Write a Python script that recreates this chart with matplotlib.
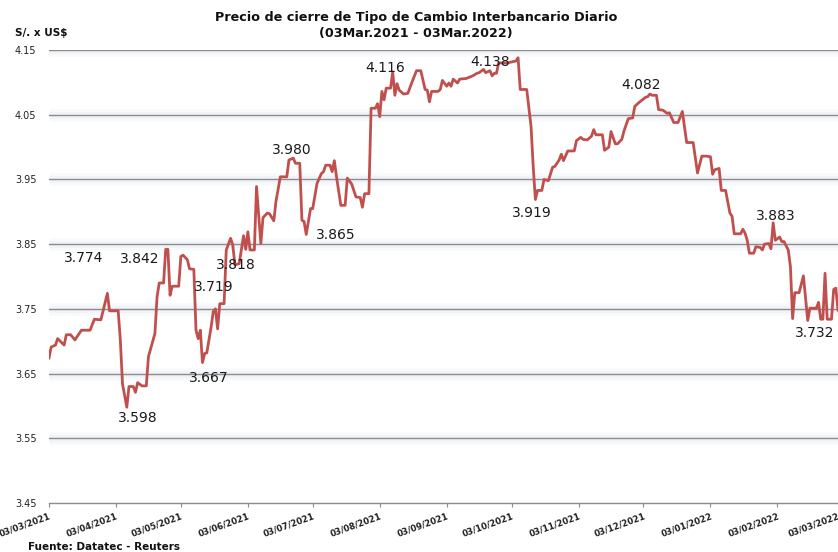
import matplotlib
matplotlib.use("Agg")
import matplotlib.pyplot as plt
import pandas as pd

# ---- data (calendar day offset from 03/03/2021, closing rate) ----
start_date = "2021-03-03"
day_offsets = [0, 1, 3, 4, 7, 8, 10, 12, 15, 19, 21, 24, 27, 28, 32, 33, 34, 36, 37, 39,
               40, 41, 43, 45, 46, 49, 50, 51, 53, 54, 55, 56, 57, 60, 61, 62, 64, 65, 67, 68,
               69, 70, 71, 72, 73, 75, 76, 77, 78, 79, 81, 82, 84, 85, 86, 88, 90, 91, 92, 93,
               95, 96, 98, 99, 101, 102, 104, 105, 107, 110, 111, 113, 114, 116, 117, 118, 119, 121, 122, 124,
               126, 127, 128, 130, 131, 132, 133, 135, 137, 138, 140, 142, 144, 145, 146, 148, 149, 151, 152, 153,
               154, 155, 156, 158, 159, 160, 161, 162, 164, 166, 168, 170, 172, 174, 175, 176, 177, 180, 181, 182,
               184, 185, 186, 187, 189, 190, 193, 196, 198, 199, 201, 202, 204, 205, 206, 207, 208, 212, 216, 217,
               218, 221, 223, 224, 225, 226, 228, 229, 231, 233, 234, 236, 237, 238, 240, 243, 244, 246, 247, 249,
               251, 252, 253, 256, 257, 259, 260, 262, 263, 265, 266, 268, 270, 271, 273, 276, 277, 278, 279, 281,
               282, 284, 286, 287, 289, 291, 293, 295, 298, 300, 302, 304, 306, 307, 308, 310, 311, 313, 315, 316,
               317, 320, 321, 322, 323, 324, 326, 327, 329, 330, 331, 333, 334, 335, 336, 338, 339, 340, 342, 343,
               344, 345, 347, 349, 351, 352, 355, 356, 357, 358, 359, 360, 362, 363, 364, 365]
rates = [3.674, 3.691, 3.694, 3.704, 3.694, 3.710, 3.710, 3.702, 3.717, 3.717, 3.734, 3.733, 3.774, 3.747, 3.747, 3.702, 3.634, 3.598, 3.630, 3.630,
         3.621, 3.636, 3.631, 3.631, 3.676, 3.712, 3.769, 3.790, 3.790, 3.842, 3.842, 3.771, 3.785, 3.785, 3.831, 3.833, 3.826, 3.812, 3.811, 3.717,
         3.704, 3.717, 3.667, 3.681, 3.682, 3.722, 3.746, 3.750, 3.719, 3.758, 3.758, 3.841, 3.859, 3.849, 3.818, 3.820, 3.863, 3.842, 3.869, 3.841,
         3.841, 3.939, 3.851, 3.891, 3.898, 3.897, 3.886, 3.916, 3.954, 3.954, 3.980, 3.983, 3.975, 3.975, 3.887, 3.885, 3.865, 3.905, 3.905, 3.944,
         3.959, 3.962, 3.972, 3.972, 3.962, 3.979, 3.954, 3.910, 3.910, 3.952, 3.943, 3.923, 3.922, 3.907, 3.928, 3.928, 4.060, 4.060, 4.067, 4.047,
         4.086, 4.073, 4.091, 4.091, 4.116, 4.080, 4.098, 4.088, 4.082, 4.083, 4.101, 4.118, 4.118, 4.089, 4.088, 4.070, 4.086, 4.086, 4.089, 4.103,
         4.094, 4.099, 4.094, 4.105, 4.099, 4.105, 4.106, 4.110, 4.114, 4.115, 4.120, 4.115, 4.118, 4.110, 4.114, 4.114, 4.130, 4.130, 4.133, 4.138,
         4.089, 4.089, 4.032, 3.970, 3.919, 3.933, 3.933, 3.950, 3.948, 3.969, 3.970, 3.980, 3.989, 3.979, 3.994, 3.994, 4.010, 4.015, 4.012, 4.011,
         4.017, 4.027, 4.019, 4.019, 3.995, 4.000, 4.024, 4.005, 4.005, 4.012, 4.025, 4.044, 4.045, 4.063, 4.069, 4.077, 4.078, 4.082, 4.080, 4.080,
         4.058, 4.057, 4.052, 4.053, 4.038, 4.038, 4.055, 4.007, 4.007, 3.960, 3.986, 3.986, 3.985, 3.958, 3.965, 3.967, 3.933, 3.933, 3.898, 3.893,
         3.866, 3.866, 3.873, 3.867, 3.856, 3.836, 3.836, 3.846, 3.845, 3.841, 3.850, 3.851, 3.843, 3.883, 3.856, 3.861, 3.854, 3.854, 3.841, 3.815,
         3.735, 3.775, 3.775, 3.801, 3.732, 3.751, 3.751, 3.760, 3.734, 3.734, 3.805, 3.734, 3.734, 3.780, 3.782, 3.748]

# annotated values and where their text sits (day offset, rate)
label_values = ["3.774", "3.598", "3.842", "3.667", "3.719", "3.818", "3.980", "3.865",
                "4.116", "4.138", "3.919", "4.082", "3.883", "3.732"]
label_text_pos = [(16.2, 3.829), (41.1, 3.581), (42.1, 3.827), (74.0, 3.643), (76.3, 3.784),
                  (86.5, 3.818), (112.3, 3.995), (132.7, 3.864), (155.3, 4.122), (203.9, 4.131),
                  (223.3, 3.898), (273.7, 4.096), (336.1, 3.894), (354.1, 3.713)]

y_ticks = [3.45, 3.55, 3.65, 3.75, 3.85, 3.95, 4.05, 4.15]
x_tick_dates = ["2021-03-03", "2021-04-03", "2021-05-03", "2021-06-03", "2021-07-03",
                "2021-08-03", "2021-09-03", "2021-10-03", "2021-11-03", "2021-12-03",
                "2022-01-03", "2022-02-03", "2022-03-03"]

title_text = "Precio de cierre de Tipo de Cambio Interbancario Diario\n(03Mar.2021 - 03Mar.2022)"
y_unit = "S/. x US$"
source_text = "Fuente: Datatec - Reuters"

# ---- figure ----
t0 = pd.Timestamp(start_date)
dates = [t0 + pd.Timedelta(days=d) for d in day_offsets]

fig = plt.figure(figsize=(8.38, 5.52), dpi=100)
ax = fig.add_axes([49/838, 1-503/552, 1-49/838, (503-50)/552])

ax.set_ylim(3.45, 4.15)
ax.set_xlim(t0, pd.Timestamp(x_tick_dates[-1]))

# gridlines with soft shadow
for yv in y_ticks[1:]:
    for lw, al in [(9, 0.25), (5, 0.35)]:
        ax.axhline(yv, color="#e6eaf3", lw=lw, alpha=al, zorder=1, solid_capstyle="butt")
    ax.axhline(yv, color="#8c8c8c", lw=1.0, zorder=2)

ax.plot(dates, rates, color="#c0504d", lw=2.0, zorder=3)

for txt, (dx, yv) in zip(label_values, label_text_pos):
    ax.text(t0 + pd.Timedelta(days=dx), yv, txt, ha="center", va="center",
            fontsize=10, color="#1a1a1a", zorder=4)

for s in ["top", "right", "left"]:
    ax.spines[s].set_visible(False)
ax.spines["bottom"].set_color("#8c8c8c")
ax.spines["bottom"].set_linewidth(1.0)

ax.set_yticks(y_ticks)
ax.set_yticklabels([f"{v:.2f}" for v in y_ticks], fontsize=7, color="#222222")
ax.tick_params(axis="y", length=0, pad=9)

xt = [pd.Timestamp(d) for d in x_tick_dates]
ax.set_xticks(xt)
ax.set_xticklabels([d.strftime("%d/%m/%Y") for d in xt], rotation=20, ha="right",
                   rotation_mode="anchor", fontsize=6.2, fontweight="bold", color="#222222")
ax.tick_params(axis="x", length=3, color="#8c8c8c", pad=3)

fig.text(416/838, 1-26/552, title_text, ha="center", va="center", fontsize=9.2,
         fontweight="bold", linespacing=1.3, color="#111111")
fig.text(15/838, 1-33/552, y_unit, ha="left", va="center", fontsize=7.5,
         fontweight="bold", color="#111111")
fig.text(28/838, 1-547/552, source_text, ha="left", va="center", fontsize=7.5,
         fontweight="bold", color="#111111")

fig.savefig("out.png", dpi=100)
